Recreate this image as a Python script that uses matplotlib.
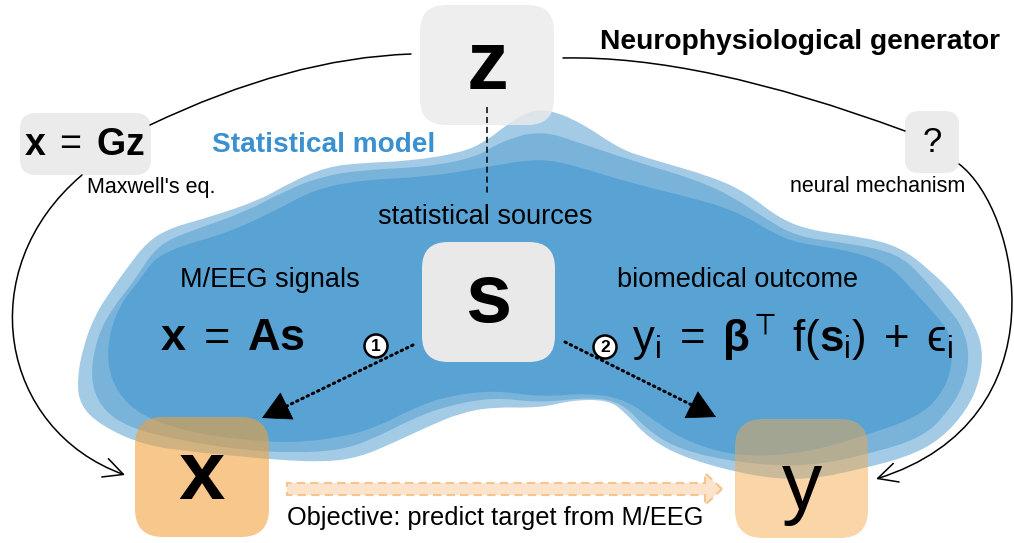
import matplotlib
matplotlib.use("Agg")
import matplotlib.pyplot as plt
from matplotlib.path import Path
from matplotlib.patches import PathPatch, FancyBboxPatch, FancyArrowPatch, Circle, FancyArrow

plt.rcParams['font.family'] = ['Liberation Sans', 'DejaVu Sans']
plt.rcParams['mathtext.fontset'] = 'custom'
plt.rcParams['mathtext.rm'] = 'Liberation Sans'
plt.rcParams['mathtext.it'] = 'Liberation Sans'
plt.rcParams['mathtext.bf'] = 'Liberation Sans:bold'
plt.rcParams['mathtext.sf'] = 'Liberation Sans'
plt.rcParams['mathtext.fallback'] = 'stixsans'

# ---- diagram content (texts) ----
title_generator = "Neurophysiological generator"
title_model = "Statistical model"
node_z = "z"
node_s = "s"
node_x = "x"
node_y = "y"
node_q = "?"
eq_forward = r"$\mathbf{x}\;=\;\mathbf{Gz}$"
eq_mixing = r"$\mathbf{x}\;=\;\mathbf{As}$"
eq_outcome = "$\\mathrm{y}_\\mathrm{i}\\;=\\;\\mathbf{\\beta}^{\\top}\\;\\mathrm{f}(\\mathbf{s}_\\mathrm{i})\\;+\\;\u03f5_\\mathrm{i}$"
lbl_maxwell = "Maxwell's eq."
lbl_neural = "neural mechanism"
lbl_sources = "statistical sources"
lbl_signals = "M/EEG signals"
lbl_outcome = "biomedical outcome"
lbl_objective = "Objective: predict target from M/EEG"
step_labels = ["1", "2"]

# ---- blob outlines (pixel coords of the picture) ----
blob_light = [(80,405),(77,380),(83,347),(95,315),(110,292),(127,268),(147,242),(170,228),(210,217),
              (260,200),(293,181),(327,167),(360,163),(410,161),(460,153),(485,142),(505,126),(527,112),
              (547,109),(580,122),(620,149),(647,158),(713,177),(747,193),(780,219),(813,231),(863,237),
              (900,247),(930,270),(957,297),(975,325),(983,350),(980,380),(967,410),(940,440),(907,457),
              (857,470),(807,480),(757,477),(690,460),(650,440),(623,410),(607,400),(573,400),(540,408),
              (493,407),(460,413),(427,427),(393,443),(360,457),(327,462),(277,460),(227,455),(193,452),
              (143,445),(100,425)]
blob_mid = [(90,377),(97,337),(113,307),(133,283),(157,245),(193,230),(243,213),(287,190),(320,177),
            (360,170),(427,167),(477,157),(500,142),(540,130),(580,143),(630,160),(697,180),(733,197),
            (763,217),(797,237),(847,243),(897,253),(923,277),(947,307),(963,327),(970,357),(963,387),
            (947,413),(923,437),(873,453),(807,467),(740,463),(680,450),(647,430),(623,403),(590,397),
            (540,403),(493,397),(443,407),(410,420),(377,437),(343,450),(293,453),(243,450),(177,440),
            (127,427),(100,407)]
blob_dark = [(107,363),(110,330),(123,300),(140,280),(153,260),(177,247),(227,233),(277,210),(313,190),
             (360,180),(427,177),(487,167),(540,158),(580,167),(630,183),(713,203),(747,217),(773,233),
             (797,243),(847,250),(887,263),(913,290),(940,320),(950,333),(953,367),(940,397),(917,417),
             (873,433),(807,453),(740,457),(690,443),(657,423),(627,400),(590,393),(540,397),(493,390),
             (443,397),(410,410),(377,427),(343,437),(293,443),(243,440),(193,433),(143,417),(117,393)]

W, H = 1014, 543
fig = plt.figure(figsize=(W/100, H/100), dpi=100)
ax = fig.add_axes([0, 0, 1, 1])
ax.set_xlim(0, W)
ax.set_ylim(H, 0)
ax.axis('off')


def smooth_closed(pts):
    n = len(pts)
    mids = [((pts[i][0] + pts[(i+1) % n][0]) / 2, (pts[i][1] + pts[(i+1) % n][1]) / 2) for i in range(n)]
    verts = [mids[-1]]
    codes = [Path.MOVETO]
    for i in range(n):
        verts += [pts[i], mids[i]]
        codes += [Path.CURVE3, Path.CURVE3]
    verts.append(mids[-1])
    codes.append(Path.CLOSEPOLY)
    return Path(verts, codes)


for pts, col in [(blob_light, '#a3cbe6'), (blob_mid, '#79b3da'), (blob_dark, '#58a3d4')]:
    ax.add_patch(PathPatch(smooth_closed(pts), facecolor=col, edgecolor='none', zorder=1))


def rbox(x0, y0, x1, y1, fc, alpha=1.0, r=22, z=3):
    ax.add_patch(FancyBboxPatch((x0, y0), x1 - x0, y1 - y0,
                                boxstyle=f"round,pad=0,rounding_size={r}",
                                facecolor=fc, edgecolor='none', alpha=alpha, zorder=z))


# boxes
rbox(420, 5, 554, 125, '#ebebeb', alpha=0.82, r=26)
rbox(20, 113, 151, 175, '#ebebeb', r=16)
rbox(905, 111, 959, 173, '#ebebeb', r=14)
rbox(422, 242, 555, 362, '#e9e9e9', r=26)
rbox(135, 417, 269, 537, '#f3a038', alpha=0.58, r=28)
rbox(735, 419, 868, 538, '#f5a848', alpha=0.48, r=28)

# dashed line z -> sources
ax.plot([487, 487], [107, 194], color='black', lw=1.1, ls=(0, (4, 2.5)), zorder=4)

# curves
def curve(verts, codes, style, ms=14):
    p = FancyArrowPatch(path=Path(verts, codes), arrowstyle=style, mutation_scale=ms,
                        color='black', lw=1.1, zorder=4, shrinkA=0, shrinkB=0)
    ax.add_patch(p)

curve([(411, 54), (290, 58), (150, 125)], [Path.MOVETO, Path.CURVE3, Path.CURVE3], '-')
curve([(563, 58), (700, 55), (905, 131)], [Path.MOVETO, Path.CURVE3, Path.CURVE3], '-')
curve([(82, 175), (-30, 270), (0, 430), (125, 475)],
      [Path.MOVETO, Path.CURVE4, Path.CURVE4, Path.CURVE4], '->,head_length=0.7,head_width=0.35', 20)
curve([(959, 164), (1020, 210), (1065, 420), (876, 479)],
      [Path.MOVETO, Path.CURVE4, Path.CURVE4, Path.CURVE4], '->,head_length=0.7,head_width=0.35', 20)

# dotted arrows s -> x, s -> y
def dotted_arrow(p0, p1):
    dx, dy = p1[0] - p0[0], p1[1] - p0[1]
    L = (dx**2 + dy**2) ** 0.5
    ux, uy = dx / L, dy / L
    hb = (p1[0] - 18 * ux, p1[1] - 18 * uy)
    ax.plot([p0[0], hb[0]], [p0[1], hb[1]], color='black', lw=2.2,
            ls=(0, (0.5, 1.4)), dash_capstyle='round', zorder=5)
    ax.add_patch(FancyArrowPatch(hb, p1, arrowstyle='-|>,head_length=1.2,head_width=0.65',
                                 mutation_scale=16, color='black', lw=0.5, zorder=5,
                                 shrinkA=0, shrinkB=0))

dotted_arrow((413, 345), (262, 418))
dotted_arrow((565, 342), (716, 417))

# step markers
for (cx, cy), lab in zip([(376, 346), (605, 347)], step_labels):
    ax.add_patch(Circle((cx, cy), 11.5, facecolor='white', edgecolor='black', lw=1.8, zorder=6))
    ax.text(cx, cy + 0.5, lab, ha='center', va='center', fontsize=12.5, fontweight='bold', zorder=7)

# objective arrow
ax.add_patch(FancyArrow(287, 489, 435, 0, width=12, head_width=32, head_length=17,
                        length_includes_head=True, facecolor='#fce4cc', edgecolor='#f7c48c',
                        lw=1.5, ls=(0, (4, 2.5)), zorder=2))

# texts
ax.text(600, 42, title_generator, ha='left', va='center', fontsize=20.3, fontweight='bold', zorder=8)
ax.text(212, 145, title_model, ha='left', va='center', fontsize=20.2, fontweight='bold',
        color='#3a90d0', zorder=8)
ax.text(487, 67, node_z, ha='center', va='center', fontsize=60, fontweight='bold', zorder=8)
ax.text(488, 300, node_s, ha='center', va='center', fontsize=60, fontweight='bold', zorder=8)
ax.text(202, 477, node_x, ha='center', va='center', fontsize=60, fontweight='bold', zorder=8)
ax.text(802, 488, node_y, ha='center', va='center', fontsize=58, zorder=8)
ax.text(932, 142, node_q, ha='center', va='center', fontsize=25, zorder=8)
ax.text(85, 145, eq_forward, ha='center', va='center', fontsize=27, zorder=8)
ax.text(233, 338, eq_mixing, ha='center', va='center', fontsize=32.5, zorder=8)
ax.text(792, 352, eq_outcome, ha='center', va='baseline', fontsize=31.5, zorder=8)
ax.text(87, 187, lbl_maxwell, ha='left', va='center', fontsize=15.5, zorder=8)
ax.text(790, 186, lbl_neural, ha='left', va='center', fontsize=15.5, zorder=8)
ax.text(485, 217, lbl_sources, ha='center', va='center', fontsize=19.5, zorder=8)
ax.text(180, 280, lbl_signals, ha='left', va='center', fontsize=19.5, zorder=8)
ax.text(617, 280, lbl_outcome, ha='left', va='center', fontsize=19.5, zorder=8)
ax.text(287, 518, lbl_objective, ha='left', va='center', fontsize=18.3, zorder=8)

fig.savefig("out.png", dpi=100)
